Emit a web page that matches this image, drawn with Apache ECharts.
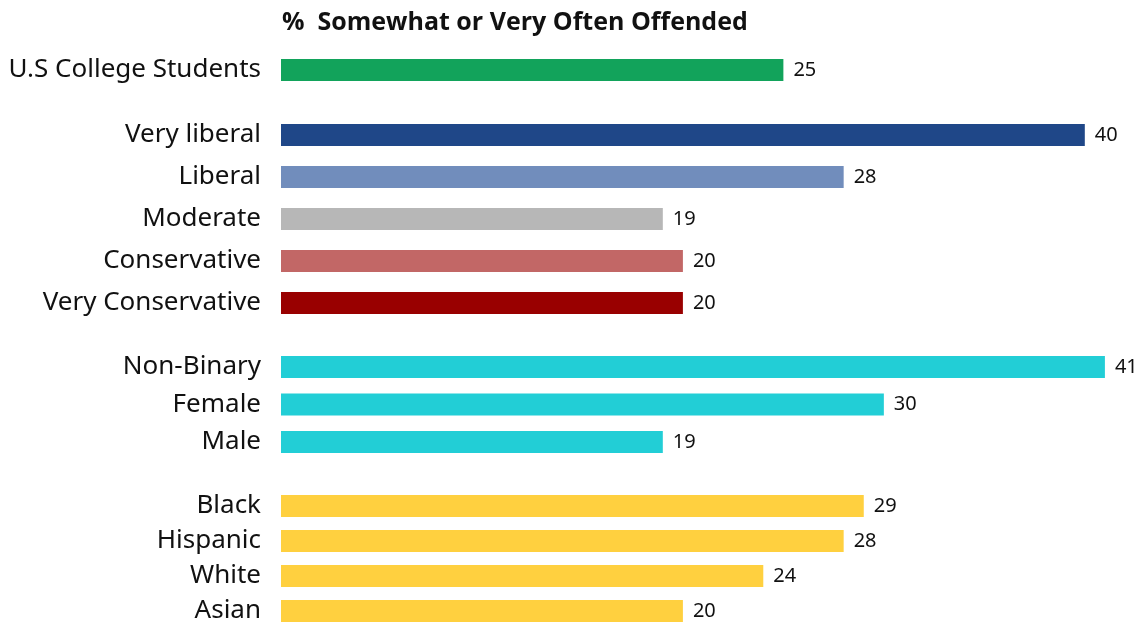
<!DOCTYPE html>
<html>
<head>
<meta charset="utf-8">
<style>
  html, body { margin: 0; padding: 0; background: #ffffff; }
  #chart { width: 1145px; height: 624px; }
</style>
<script src="https://cdn.jsdelivr.net/npm/echarts@6/dist/echarts.min.js"></script>
</head>
<body>
<div id="chart"></div>
<script>
// Share of students offended somewhat or very often, by group
const overallLabels = ['U.S College Students'];
const overallValues = [25];

const ideologyLabels = ['Very liberal', 'Liberal', 'Moderate', 'Conservative', 'Very Conservative'];
const ideologyValues = [40, 28, 19, 20, 20];

const genderLabels = ['Non-Binary', 'Female', 'Male'];
const genderValues = [41, 30, 19];

const raceLabels = ['Black', 'Hispanic', 'White', 'Asian'];
const raceValues = [29, 28, 24, 20];

const titleText = '%  Somewhat or Very Often Offended';

// Bar colours per panel
const overallColors = ['#12A35B'];
const ideologyColors = ['#1F4788', '#718DBC', '#B7B7B7', '#C26766', '#990000'];
const genderColors = ['#22CED6', '#22CED6', '#22CED6'];
const raceColors = ['#FFD03F', '#FFD03F', '#FFD03F', '#FFD03F'];

// Each panel is its own grid; multi-row panels place the first and last
// row centres on the grid edges (boundaryGap false).
const panels = [
  { labels: overallLabels, values: overallValues, colors: overallColors, top: 49, height: 42, gap: true },
  { labels: ideologyLabels, values: ideologyValues, colors: ideologyColors, top: 135, height: 168, gap: false },
  { labels: genderLabels, values: genderValues, colors: genderColors, top: 367, height: 75, gap: false },
  { labels: raceLabels, values: raceValues, colors: raceColors, top: 506, height: 108, gap: false }
];

const LEFT = 281;
const X_MAX = 42;
const WIDTH = 844;
const labelFont = '"Noto Sans", "Open Sans", sans-serif';

const option = {
  animation: false,
  backgroundColor: '#ffffff',
  title: {
    text: titleText,
    left: 277,
    top: 5,
    textStyle: {
      fontFamily: '"Open Sans", "Noto Sans", sans-serif',
      fontWeight: 'bold',
      fontSize: 25,
      color: '#111111'
    }
  },
  grid: panels.map(p => ({ left: LEFT, width: WIDTH, top: p.top, height: p.height })),
  xAxis: panels.map((p, i) => ({
    type: 'value',
    gridIndex: i,
    min: 0,
    max: X_MAX,
    show: false,
    splitLine: { show: false }
  })),
  yAxis: panels.map((p, i) => ({
    type: 'category',
    gridIndex: i,
    data: p.labels,
    inverse: true,
    boundaryGap: p.gap,
    axisLine: { show: false },
    axisTick: { show: false },
    splitLine: { show: false },
    axisLabel: {
      margin: 20,
      interval: 0,
      fontFamily: labelFont,
      fontSize: 26,
      color: '#111111'
    }
  })),
  series: panels.map((p, i) => ({
    type: 'bar',
    xAxisIndex: i,
    yAxisIndex: i,
    barWidth: 22,
    clip: false,
    data: p.values.map((v, j) => ({ value: v, itemStyle: { color: p.colors[j] } })),
    label: {
      show: true,
      position: 'right',
      distance: 10,
      fontFamily: labelFont,
      fontSize: 20,
      color: '#111111'
    }
  }))
};

const chart = echarts.init(document.getElementById('chart'), null, { renderer: 'canvas' });
chart.setOption(option);
</script>
</body>
</html>
